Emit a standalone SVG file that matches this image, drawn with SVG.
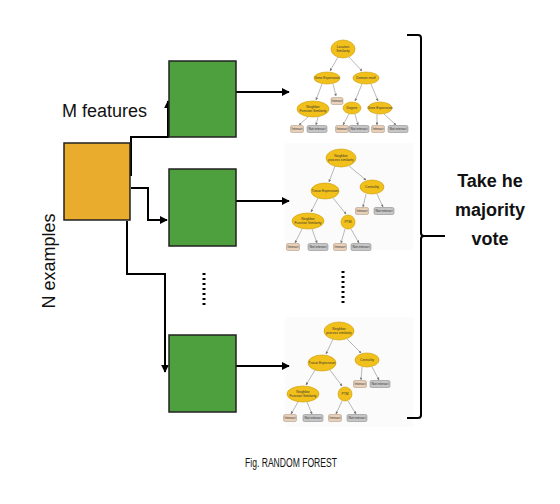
<svg xmlns="http://www.w3.org/2000/svg" width="560" height="504" viewBox="0 0 560 504">
<style>
.lbl{font-family:"Liberation Sans",Arial,sans-serif;fill:#111}
.big{font-size:18px}
.bold{font-family:"Liberation Sans",Arial,sans-serif;font-weight:bold;font-size:18px;fill:#111}
.conn{fill:none;stroke:#000;stroke-width:2}
.box-o{fill:#EAAC2C;stroke:#222;stroke-width:1.5}
.box-g{fill:#4E9F3D;stroke:#222;stroke-width:1.5}
.el{fill:#F2C01A;stroke:#C99A05;stroke-width:0.6}
.li{fill:#E9D0B8;stroke:#A6907C;stroke-width:0.5}
.ln{fill:#C6C6C6;stroke:#7E7E7E;stroke-width:0.5}
.te{stroke:#9a9a9a;stroke-width:0.7;fill:none}
.tt{font-family:"Liberation Sans",Arial,sans-serif;font-size:3.3px;fill:#333;text-anchor:middle}
.dots{stroke:#000;stroke-width:3;stroke-dasharray:2 3;fill:none}
</style>
<defs>
<marker id="ah" viewBox="0 0 10 10" refX="9" refY="5" markerWidth="4" markerHeight="4" orient="auto" markerUnits="strokeWidth">
<path d="M0,0 L10,5 L0,10 z" fill="#000"/>
</marker>
<marker id="sa" viewBox="0 0 10 10" refX="9" refY="5" markerWidth="4" markerHeight="4" orient="auto" markerUnits="strokeWidth">
<path d="M0,0 L10,5 L0,10 z" fill="#777"/>
</marker>
</defs>
<rect width="560" height="504" fill="#fff"/>

<!-- tree backgrounds -->
<rect x="285" y="143" width="128" height="107" fill="#fbfbfb"/>
<rect x="285" y="317" width="128" height="110" fill="#fbfbfb"/>

<g id="connectors">
<path class="conn" d="M131,176 V137 H168 V101" marker-end="url(#ah)"/>
<path class="conn" d="M131,188 H148 V220 H167" marker-end="url(#ah)"/>
<path class="conn" d="M127,221 V274 H165 V372" marker-end="url(#ah)"/>
<path class="conn" d="M236,92 H289" marker-end="url(#ah)"/>
<path class="conn" d="M236,201 H289" marker-end="url(#ah)"/>
<path class="conn" d="M236,366 H289" marker-end="url(#ah)"/>
</g>

<g id="data">
<rect class="box-o" x="64" y="143" width="66" height="77"/>
</g>
<g id="tree-box-1"><rect class="box-g" x="169" y="61" width="67" height="76"/></g>
<g id="tree-box-2"><rect class="box-g" x="169" y="169" width="67" height="77"/></g>
<g id="tree-box-3"><rect class="box-g" x="169" y="335" width="67" height="77"/></g>

<path class="dots" d="M204,273 V308"/>
<path class="dots" d="M343,271 V306"/>

<text class="lbl big" x="62" y="117">M features</text>
<text class="lbl big" transform="translate(55,261) rotate(-90)" text-anchor="middle">N examples</text>

<g id="brace">
<path d="M407,35 H418 Q421,35 421,38 V233 Q421,236 424,236 H445 M424,236 Q421,236 421,239 V415 Q421,418 418,418 H407" fill="none" stroke="#000" stroke-width="2"/>
</g>
<g id="vote">
<text class="bold" text-anchor="middle" x="490" y="187">Take he</text>
<text class="bold" text-anchor="middle" x="490" y="216">majority</text>
<text class="bold" text-anchor="middle" x="490" y="245">vote</text>
</g>

<text class="lbl" x="245" y="467" font-size="12" textLength="92" lengthAdjust="spacingAndGlyphs">Fig. RANDOM FOREST</text>

<!-- Tree 1 -->
<g id="tree1">
<g class="te">
<path d="M338,57 L330,71" marker-end="url(#sa)"/>
<path d="M349,57 L362,71" marker-end="url(#sa)"/>
<path d="M333,84 L336,96" marker-end="url(#sa)"/>
<path d="M322,84 L316,100" marker-end="url(#sa)"/>
<path d="M362,84 L355,101" marker-end="url(#sa)"/>
<path d="M371,84 L378,101" marker-end="url(#sa)"/>
<path d="M308,117 L299,125" marker-end="url(#sa)"/>
<path d="M318,117 L316,125" marker-end="url(#sa)"/>
<path d="M349,114 L343,125" marker-end="url(#sa)"/>
<path d="M355,114 L358,125" marker-end="url(#sa)"/>
<path d="M377,114 L377,125" marker-end="url(#sa)"/>
<path d="M384,114 L396,125" marker-end="url(#sa)"/>
</g>
<ellipse class="el" cx="343" cy="49" rx="12" ry="9"/><text class="tt" x="343" y="48">Location</text><text class="tt" x="343" y="52">Similarity</text>
<ellipse class="el" cx="327" cy="78" rx="13" ry="6"/><text class="tt" x="327" y="79">Gene Expression</text>
<ellipse class="el" cx="366" cy="78" rx="13" ry="6"/><text class="tt" x="366" y="79">Domain motif</text>
<rect class="li" x="331" y="97.5" width="12" height="7" rx="1.5"/><text class="tt" x="337" y="102">Interact</text>
<ellipse class="el" cx="313" cy="109" rx="16" ry="8"/><text class="tt" x="313" y="108">Neighbor</text><text class="tt" x="313" y="112">Function Similarity</text>
<ellipse class="el" cx="352" cy="108" rx="9" ry="6"/><text class="tt" x="352" y="109">Degree</text>
<ellipse class="el" cx="380" cy="108" rx="12" ry="6"/><text class="tt" x="380" y="109">Gene Expression</text>
<rect class="li" x="290.5" y="125.5" width="13" height="7" rx="1.5"/><text class="tt" x="297" y="130">Interact</text>
<rect class="ln" x="307" y="125.5" width="20" height="7" rx="1.5"/><text class="tt" x="317" y="130">Not interact</text>
<rect class="li" x="335.5" y="125.5" width="13" height="7" rx="1.5"/><text class="tt" x="342" y="130">Interact</text>
<rect class="ln" x="349" y="125.5" width="20" height="7" rx="1.5"/><text class="tt" x="359" y="130">Not interact</text>
<rect class="li" x="371.5" y="125.5" width="13" height="7" rx="1.5"/><text class="tt" x="378" y="130">Interact</text>
<rect class="ln" x="388" y="125.5" width="20" height="7" rx="1.5"/><text class="tt" x="398" y="130">Not interact</text>
</g>

<!-- Tree 2 -->
<g id="tree2">
<g class="te">
<path d="M335,166 L329,182" marker-end="url(#sa)"/>
<path d="M349,166 L366,180" marker-end="url(#sa)"/>
<path d="M366,194 L363,207" marker-end="url(#sa)"/>
<path d="M377,194 L383,207" marker-end="url(#sa)"/>
<path d="M318,198 L311,212" marker-end="url(#sa)"/>
<path d="M333,198 L346,214" marker-end="url(#sa)"/>
<path d="M302,229 L295,243" marker-end="url(#sa)"/>
<path d="M312,229 L317,243" marker-end="url(#sa)"/>
<path d="M345,229 L341,243" marker-end="url(#sa)"/>
<path d="M351,229 L359,243" marker-end="url(#sa)"/>
</g>
<ellipse class="el" cx="341" cy="158" rx="15" ry="9"/><text class="tt" x="341" y="157">Neighbor</text><text class="tt" x="341" y="161">process similarity</text>
<ellipse class="el" cx="325" cy="191" rx="14" ry="8"/><text class="tt" x="325" y="192">Tissue Expression</text>
<ellipse class="el" cx="372" cy="187" rx="12" ry="7"/><text class="tt" x="372" y="188">Centrality</text>
<rect class="li" x="355.5" y="207.5" width="13" height="7" rx="1.5"/><text class="tt" x="362" y="212">Interact</text>
<rect class="ln" x="374" y="207.5" width="20" height="7" rx="1.5"/><text class="tt" x="384" y="212">Not interact</text>
<ellipse class="el" cx="308" cy="221" rx="16" ry="8"/><text class="tt" x="308" y="220">Neighbor</text><text class="tt" x="308" y="224">Function Similarity</text>
<ellipse class="el" cx="348" cy="222" rx="7" ry="7"/><text class="tt" x="348" y="223">PTM</text>
<rect class="li" x="286.5" y="243.5" width="13" height="7" rx="1.5"/><text class="tt" x="293" y="248">Interact</text>
<rect class="ln" x="308" y="243.5" width="20" height="7" rx="1.5"/><text class="tt" x="318" y="248">Not interact</text>
<rect class="li" x="333.5" y="243.5" width="13" height="7" rx="1.5"/><text class="tt" x="340" y="248">Interact</text>
<rect class="ln" x="351" y="243.5" width="20" height="7" rx="1.5"/><text class="tt" x="361" y="248">Not interact</text>
</g>

<!-- Tree 3 -->
<g id="tree3">
<g class="te">
<path d="M333,339 L326,354" marker-end="url(#sa)"/>
<path d="M347,339 L361,353" marker-end="url(#sa)"/>
<path d="M362,367 L361,380" marker-end="url(#sa)"/>
<path d="M372,367 L379,380" marker-end="url(#sa)"/>
<path d="M315,370 L306,385" marker-end="url(#sa)"/>
<path d="M330,370 L342,386" marker-end="url(#sa)"/>
<path d="M298,402 L291,414" marker-end="url(#sa)"/>
<path d="M307,402 L312,414" marker-end="url(#sa)"/>
<path d="M342,401 L336,414" marker-end="url(#sa)"/>
<path d="M348,401 L356,414" marker-end="url(#sa)"/>
</g>
<ellipse class="el" cx="339" cy="331" rx="15" ry="9"/><text class="tt" x="339" y="330">Neighbor</text><text class="tt" x="339" y="334">process similarity</text>
<ellipse class="el" cx="322" cy="363" rx="14" ry="8"/><text class="tt" x="322" y="364">Tissue Expression</text>
<ellipse class="el" cx="367" cy="360" rx="12" ry="7"/><text class="tt" x="367" y="361">Centrality</text>
<rect class="li" x="353.5" y="380.5" width="13" height="7" rx="1.5"/><text class="tt" x="360" y="385">Interact</text>
<rect class="ln" x="370" y="380.5" width="20" height="7" rx="1.5"/><text class="tt" x="380" y="385">Not interact</text>
<ellipse class="el" cx="303" cy="394" rx="16" ry="8"/><text class="tt" x="303" y="393">Neighbor</text><text class="tt" x="303" y="397">Function Similarity</text>
<ellipse class="el" cx="345" cy="394" rx="7" ry="7"/><text class="tt" x="345" y="395">PTM</text>
<rect class="li" x="283.5" y="414.5" width="13" height="7" rx="1.5"/><text class="tt" x="290" y="419">Interact</text>
<rect class="ln" x="303" y="414.5" width="20" height="7" rx="1.5"/><text class="tt" x="313" y="419">Not interact</text>
<rect class="li" x="328.5" y="414.5" width="13" height="7" rx="1.5"/><text class="tt" x="335" y="419">Interact</text>
<rect class="ln" x="347" y="414.5" width="20" height="7" rx="1.5"/><text class="tt" x="357" y="419">Not interact</text>
</g>
</svg>
